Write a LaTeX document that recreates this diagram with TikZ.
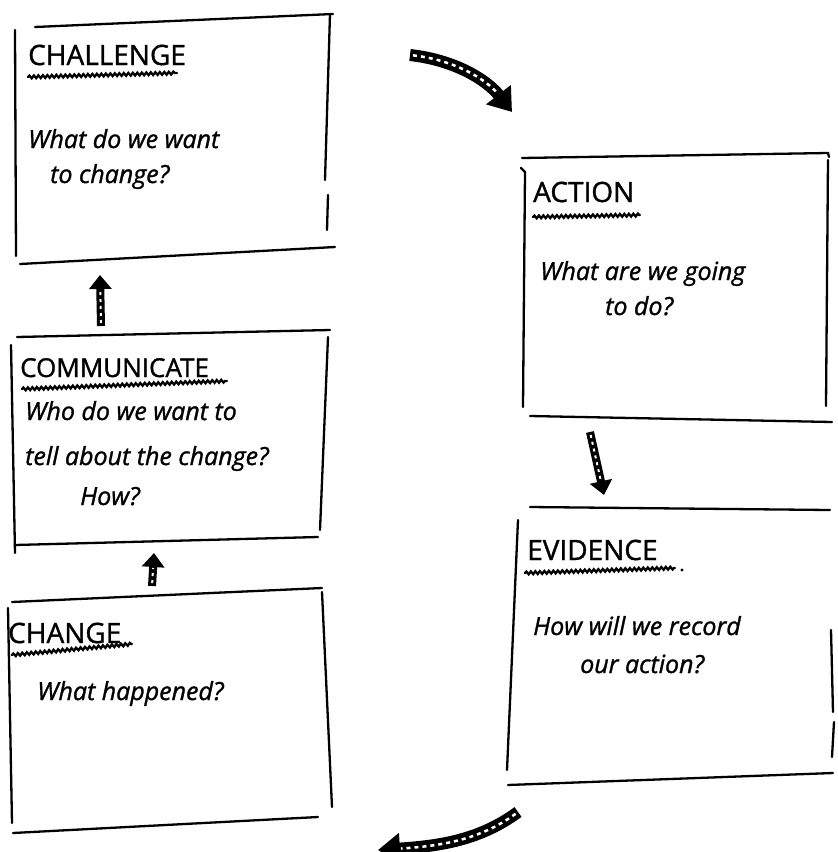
\documentclass[tikz,border=0pt]{standalone}
\usepackage{fontspec}
\setmainfont{Open Sans}
\newfontfamily\penfont{Open Sans}[FakeBold=1.2]
\usetikzlibrary{arrows.meta,decorations.pathmorphing}
\begin{document}
\begin{tikzpicture}[x=1pt,y=-1pt,
  pen/.style={line width=2.3pt, line cap=round, draw=black},
  wavy/.style={line width=2.3pt, line cap=round, decorate,
    decoration={snake, amplitude=1.4pt, segment length=4.5pt}},
  ttl/.style={anchor=base west, inner sep=0pt, font=\penfont\fontsize{28}{30}\selectfont},
  bdy/.style={anchor=base west, inner sep=0pt, font=\penfont\itshape\fontsize{25}{28}\selectfont},
  bigarrow/.style={line width=12pt, -{Triangle[length=22pt,width=30pt]},
    postaction={draw=white, line width=2.5pt, dash pattern=on 4pt off 4pt,
      shorten >=23pt, shorten <=3pt, -}},
  smallarrow/.style={line width=8pt, -{Triangle[length=14pt,width=22pt]},
    postaction={draw=white, line width=2pt, dash pattern=on 3pt off 4pt,
      shorten >=15pt, shorten <=3pt, -}}
]
\useasboundingbox[fill=white] (0,0) rectangle (838,852);

% ---------- CHALLENGE box ----------
\draw[pen] (35,27) -- (333,14);
\draw[pen] (15,30) -- (16,256);
\draw[pen] (330,14) -- (325,180);
\draw[pen] (328,195) -- (327,230);
\draw[pen] (20,264) -- (335,247);
\node[ttl] (chT) at (28,65) {CHALLENGE};
\draw[wavy] (28,77) -- (177,73);
\node[bdy] (chA) at (28,148) {What do we want};
\node[bdy] (chB) at (50,183) {to change?};

% ---------- ACTION box ----------
\draw[pen] (522,158) -- (828,153) -- (829,157);
\draw[pen] (521,168) -- (525,172);
\draw[pen] (525,172) -- (523,407);
\draw[pen] (828,160) -- (826,406);
\draw[pen] (530,416) -- (832,422);
\node[ttl] (acT) at (533,202) {ACTION};
\draw[wavy] (533,217) -- (640,215);
\node[bdy] (acA) at (540,280) {What are we going};
\node[bdy] (acB) at (605,315) {to do?};

% ---------- COMMUNICATE box ----------
\draw[pen] (17,337) -- (330,330);
\draw[pen] (11,345) -- (15,553);
\draw[pen] (328,337) -- (320,530);
\draw[pen] (15,545) -- (318,537);
\node[ttl,font=\penfont\fontsize{26}{30}\selectfont] (coT) at (20,377) {COMMUNICATE};
\draw[wavy] (22,389) -- (227,381);
\node[bdy] (coA) at (25,420) {Who do we want to};
\node[bdy] (coB) at (25,465) {tell about the change?};
\node[bdy] (coC) at (80,505) {How?};

% ---------- CHANGE box ----------
\draw[pen] (12,602) -- (322,588);
\draw[pen] (8,608) -- (12,823);
\draw[pen] (322,592) -- (332,807);
\draw[pen] (13,833) -- (318,817);
\node[ttl] (cgT) at (8,643) {CHANGE};
\draw[wavy] (12,655) -- (132,644);
\node[bdy] (cgA) at (37,700) {What happened?};

% ---------- EVIDENCE box ----------
\draw[pen] (530,507) -- (830,510);
\draw[pen] (518,520) -- (507,770);
\draw[pen] (831,630) -- (833,712);
\draw[pen] (834,722) -- (832,757);
\draw[pen] (508,785) -- (833,773);
\node[ttl] (evT) at (527,560) {EVIDENCE};
\draw[wavy] (525,573) -- (675,568);
\fill (682,570) circle (1.6pt);
\node[bdy] (evA) at (533,635) {How will we record};
\node[bdy] (evB) at (580,673) {our action?};

% ---------- arrows ----------
\coordinate (a1s) at (410,55);
\coordinate (a1e) at (512,112);
\draw[bigarrow] (a1s) .. controls (455,60) and (487,80) .. (a1e);

\coordinate (a2s) at (101,326);
\coordinate (a2e) at (100,275);
\draw[smallarrow] (a2s) -- (a2e);

\coordinate (a3s) at (152,586);
\coordinate (a3e) at (154,553);
\draw[smallarrow] (a3s) -- (a3e);

\coordinate (a4s) at (590,432);
\coordinate (a4e) at (604,495);
\draw[smallarrow] (a4s) -- (a4e);

\coordinate (a5s) at (518,812);
\coordinate (a5e) at (378,850);
\draw[bigarrow] (a5s) .. controls (480,840) and (440,846) .. (a5e);
\end{tikzpicture}
\end{document}
